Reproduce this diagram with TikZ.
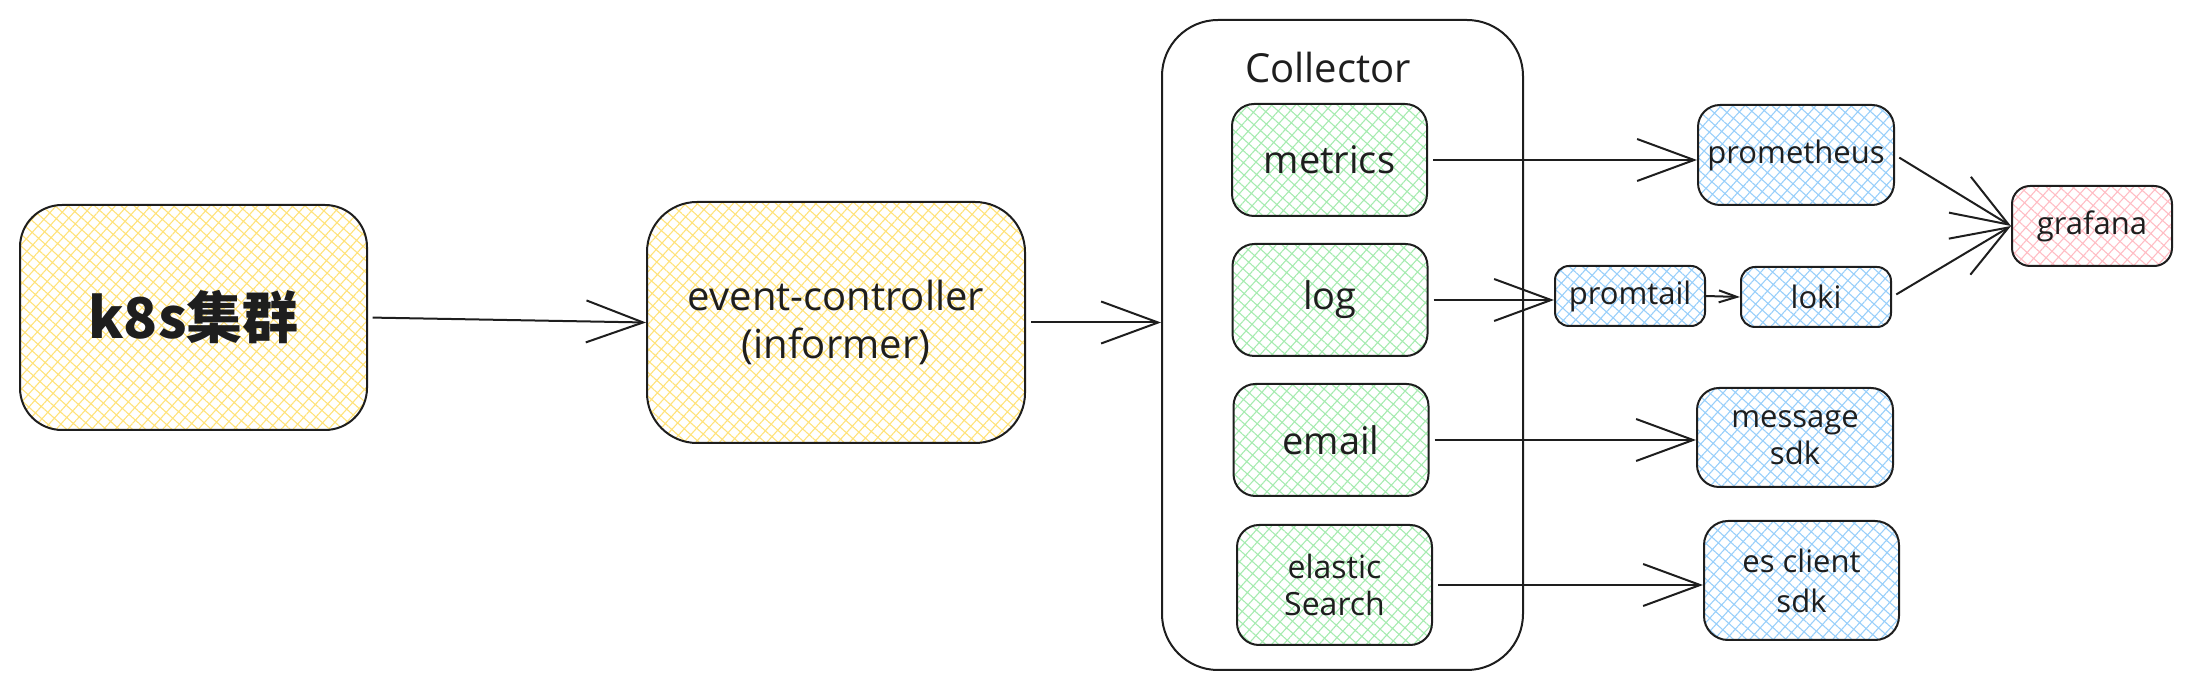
\documentclass[tikz,border=0pt]{standalone}
\usepackage{fontspec}
\setmainfont{Open Sans}
\newfontfamily\cjkfont{Noto Sans CJK SC}
\usetikzlibrary{arrows.meta,patterns.meta,calc}
\definecolor{ink}{HTML}{1E1E1E}
\definecolor{hyellow}{HTML}{FFE27A}
\definecolor{hgreen}{HTML}{A6EBB0}
\definecolor{hblue}{HTML}{99CFFA}
\definecolor{hpink}{HTML}{FFBDC4}
\begin{document}
\begin{tikzpicture}[x=0.5pt,y=-0.5pt,
  box/.style={draw=ink, line width=1pt, inner sep=0pt, align=center, text=ink},
  hatchfill/.style={pattern={Hatch[angle=48,distance=4.4pt,line width=0.55pt]}, pattern color=#1},
  bigbox/.style={box, rounded corners=11pt, minimum width=97.5pt, minimum height=56pt, hatchfill=hgreen, font=\fontsize{19}{22}\selectfont},
  smallbox/.style={box, rounded corners=11pt, hatchfill=hblue, font=\fontsize{15.5}{18.5}\selectfont},
  arr/.style={draw=ink, line width=1pt, shorten <=2.5pt, -{Straight Barb[length=28.5pt,width=21pt,line width=1pt]}},
  sarr/.style={draw=ink, line width=1pt, -{Straight Barb[length=9pt,width=6pt,line width=1pt]}}
]
\useasboundingbox (0,0) rectangle (2192,689);

% left nodes
\node[box, hatchfill=hyellow, rounded corners=21pt, minimum width=173.5pt, minimum height=112.5pt,
      font=\cjkfont\bfseries\fontsize{28}{34}\selectfont] (k8s) at (193.5,317.5) {k8s集群};
\node[box, hatchfill=hyellow, rounded corners=25pt, minimum width=189pt, minimum height=120.5pt,
      font=\fontsize{20}{24}\selectfont] (event) at (836,322.5) {event-controller\\(informer)};

% collector container
\node[draw=ink, line width=1pt, rounded corners=28pt, minimum width=180.5pt, minimum height=325pt, inner sep=0pt] (coll) at (1342.5,345) {};
\node[text=ink, font=\fontsize{20}{24}\selectfont, inner sep=0pt] (colltitle) at (1328,68) {Collector};

\node[bigbox] (metrics) at (1329.5,160) {metrics};
\node[bigbox] (log) at (1330,300) {log};
\node[bigbox] (email) at (1331,440) {email};
\node[bigbox, minimum height=60pt, font=\fontsize{16}{18.5}\selectfont] (elastic) at (1334.5,585) {elastic\\Search};

% right nodes
\node[smallbox, minimum width=98pt, minimum height=50pt] (prom) at (1796,155) {prometheus};
\node[smallbox, hatchfill=hpink, rounded corners=9pt, minimum width=80pt, minimum height=40pt] (graf) at (2092,226) {grafana};
\node[smallbox, rounded corners=7pt, minimum width=75pt, minimum height=30pt] (promtail) at (1630,296) {promtail};
\node[smallbox, rounded corners=7pt, minimum width=75pt, minimum height=30pt] (loki) at (1816,297) {loki};
\node[smallbox, minimum width=98pt, minimum height=49.5pt] (msg) at (1795,437.5) {message\\sdk};
\node[smallbox, rounded corners=12pt, minimum width=97.5pt, minimum height=59.5pt, font=\fontsize{15.5}{20}\selectfont] (es) at (1801.5,580.5) {es client\\sdk};

% connectors
\draw[arr] (k8s.east) -- (event.west);
\draw[arr] (event.east) -- (event.east -| coll.west);
\draw[arr] (metrics.east) -- (metrics.east -| prom.west);
\draw[arr] (log.east) -- (log.east -| promtail.west);
\draw[sarr] (promtail.east) -- (loki.west);
\draw[arr] (email.east) -- (email.east -| msg.west);
\draw[arr] (elastic.east) -- (elastic.east -| es.west);
\draw[arr] (prom.east) -- (graf.west);
\draw[arr] (loki.east) -- (graf.west);
\end{tikzpicture}
\end{document}
